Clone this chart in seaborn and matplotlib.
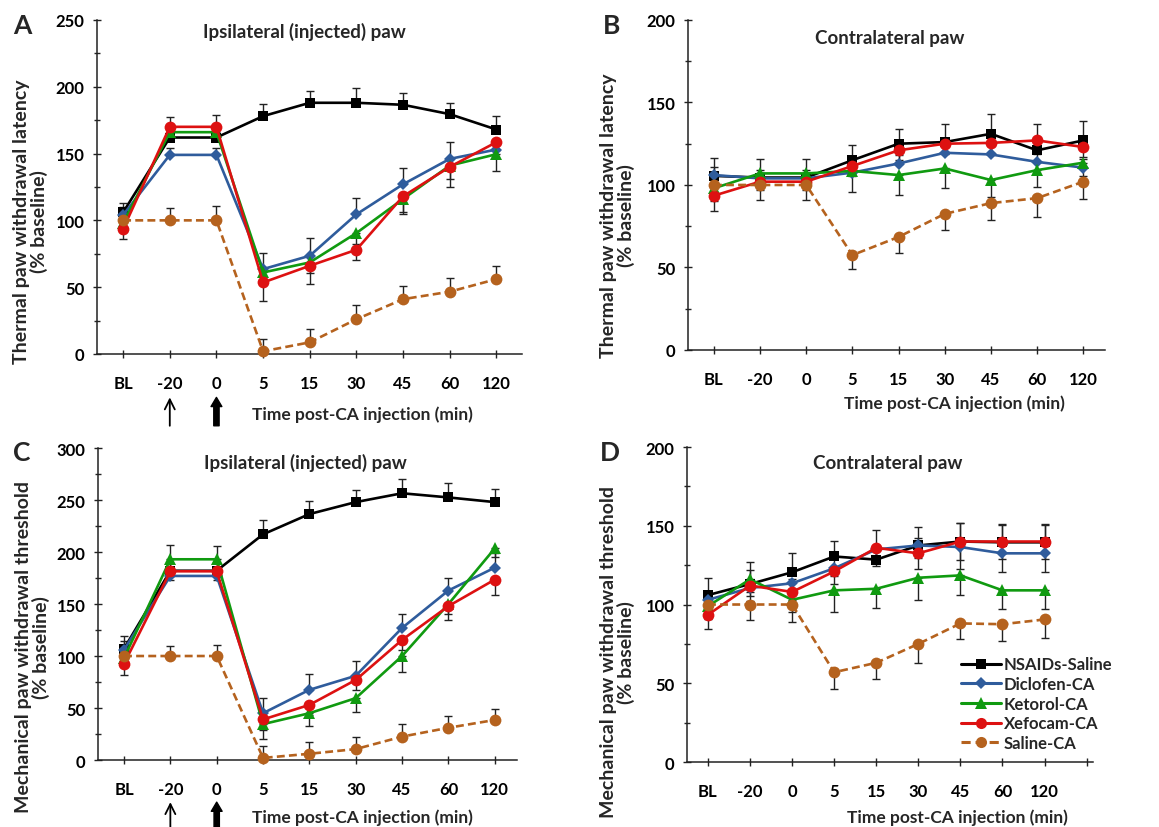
import numpy as np
import pandas as pd
import matplotlib.pyplot as plt
from matplotlib.lines import Line2D
from matplotlib.ticker import MultipleLocator
import seaborn as sns

# x categories and groups
time_labels = ['BL', '-20', '0', '5', '15', '30', '45', '60', '120']
groups = ['NSAIDs-Saline', 'Diclofen-CA', 'Ketorol-CA', 'Xefocam-CA', 'Saline-CA']

# Panel A: thermal latency, ipsilateral paw (% baseline)
a_nsaid = [106, 162, 162, 178, 188, 188, 186.5, 179.5, 168]
a_diclo = [104, 149, 149, 63.5, 73.5, 104.5, 127, 146, 153]
a_ketor = [98, 166, 166, 61, 68.5, 90.5, 116, 141, 149.5]
a_xefo = [93.5, 170, 170, 53.5, 66, 78, 118, 140, 158.5]
a_sal = [100, 100, 100, 2, 8.7, 26, 41, 46.6, 56]
a_nsaid_err = [7, 15, 17, 9, 9, 11, 9, 8.5, 10]
a_diclo_err = [6, 5, 5, 12, 13, 12, 12, 13, 5]
a_ketor_err = [6, 5, 5, 8, 8, 8, 10, 10, 12.5]
a_xefo_err = [7.5, 5, 5, 13.5, 14, 8, 13, 15, 6]
a_sal_err = [5, 9, 11, 9, 10, 11, 9.5, 10, 10]

# Panel B: thermal latency, contralateral paw
b_nsaid = [105.5, 104.5, 104.5, 115, 125, 126, 131, 121, 127]
b_diclo = [106, 104, 104, 107.5, 113, 119.5, 118.5, 114, 110.5]
b_ketor = [98, 107, 107, 108.5, 106, 110, 103, 109, 113.5]
b_xefo = [93.5, 102, 102, 111.5, 121, 125, 125.5, 127, 123]
b_sal = [100, 100, 100, 57.5, 68.5, 82.5, 89, 92, 102]
b_nsaid_err = [11, 11.5, 11.5, 9, 9, 11, 12, 16, 12]
b_diclo_err = [5, 5, 5, 5, 5, 5, 5, 5, 5]
b_ketor_err = [8, 8, 8, 13, 12, 12, 10, 10, 8]
b_xefo_err = [9.5, 5, 5, 6, 6, 6, 6, 6, 6]
b_sal_err = [6, 9, 9, 8.5, 9.5, 9.5, 10, 11.5, 10.5]

# Panel C: mechanical threshold, ipsilateral paw
c_nsaid = [107, 182, 182, 217, 236.5, 248, 256.5, 252.5, 248]
c_diclo = [106, 177, 177, 45, 67.5, 81, 127, 163, 185]
c_ketor = [98, 193, 193, 34.5, 45, 59.5, 100, 150, 203.5]
c_xefo = [92.5, 181.5, 181.5, 39, 53, 77, 115.5, 148, 173.5]
c_sal = [100, 100, 100, 2, 6, 10.5, 22.5, 31, 38.5]
c_nsaid_err = [12.5, 24.5, 24, 14, 12.5, 12, 13.5, 13.5, 13]
c_diclo_err = [8, 5, 5, 15, 15, 14, 13, 12.5, 14]
c_ketor_err = [8, 8, 8, 14.5, 12.5, 13, 15.5, 10, 8]
c_xefo_err = [11, 8, 8, 10, 10, 10, 10, 13, 15]
c_sal_err = [8, 10, 11, 11, 11, 12, 12, 11, 11]

# Panel D: mechanical threshold, contralateral paw
d_nsaid = [106, 113, 120.5, 130.5, 128.5, 137.5, 140, 139.5, 139.5]
d_diclo = [103, 110.5, 113.5, 123, 135, 137.5, 136.5, 132.5, 132.5]
d_ketor = [99, 116, 103, 109, 110, 117, 118.5, 109, 109]
d_xefo = [93.5, 112, 108, 121, 136, 132.5, 140, 140, 140]
d_sal = [100, 100, 100, 57, 63, 75, 88, 87.5, 90.5]
d_nsaid_err = [11, 14, 12, 10, 7, 12, 12, 11, 11]
d_diclo_err = [5, 5, 5, 5, 8, 8, 14, 12, 12]
d_ketor_err = [8, 8, 8, 13.5, 12, 14, 12.5, 12, 12]
d_xefo_err = [9, 10, 8, 8, 11.5, 10, 12, 11, 11]
d_sal_err = [5, 10, 11, 10.5, 10.5, 12, 10, 10.5, 12]

# styles
colors = {'NSAIDs-Saline': '#000000', 'Diclofen-CA': '#2F5C9C', 'Ketorol-CA': '#109A10',
          'Xefocam-CA': '#DD1111', 'Saline-CA': '#B5621E'}
markers = {'NSAIDs-Saline': 's', 'Diclofen-CA': 'D', 'Ketorol-CA': '^',
           'Xefocam-CA': 'o', 'Saline-CA': 'o'}
msizes = {'NSAIDs-Saline': 7.5, 'Diclofen-CA': 6.5, 'Ketorol-CA': 8.5,
          'Xefocam-CA': 8.5, 'Saline-CA': 8.5}
lstyles = {g: '-' for g in groups}
lstyles['Saline-CA'] = (0, (3, 1.6))

sns.set_theme(style='ticks')
plt.rcParams['font.family'] = ['Lato', 'DejaVu Sans']
plt.rcParams['font.weight'] = 'bold'
plt.rcParams['axes.labelweight'] = 'bold'
plt.rcParams['axes.edgecolor'] = '#222222'
plt.rcParams['axes.linewidth'] = 1.1


def draw_panel(ax, series, errors, err_dir, ymax, xmax, ntick, title, title_xy,
               ylabel, ylab_xy, xlab_xy, letter, letter_xy):
    x = np.arange(len(time_labels))
    for g in groups:
        y = np.array(series[g], dtype=float)
        e = np.array(errors[g], dtype=float)
        lo = e if err_dir[g] in ('down', 'both') else np.zeros_like(e)
        hi = e if err_dir[g] in ('up', 'both') else np.zeros_like(e)
        ax.errorbar(x, y, yerr=[lo, hi], fmt='none', ecolor='#222222',
                    elinewidth=1, capsize=3, capthick=1, zorder=1, clip_on=False)
    for i, g in enumerate(groups):
        df = pd.DataFrame({'pos': x, 'value': series[g]})
        sns.lineplot(data=df, x='pos', y='value', ax=ax, color=colors[g],
                     marker=markers[g], markersize=msizes[g], markeredgewidth=0,
                     linestyle=lstyles[g], linewidth=1.9, clip_on=False, zorder=3 + i)
    ax.set_xlim(-0.56, xmax)
    ax.set_ylim(0, ymax)
    ax.set_xticks(np.arange(ntick))
    ax.set_xticklabels(time_labels + [''] * (ntick - len(time_labels)))
    ax.yaxis.set_major_locator(MultipleLocator(50))
    ax.yaxis.set_minor_locator(MultipleLocator(25))
    ax.tick_params(axis='both', which='major', direction='inout', length=6, width=1,
                   labelsize=12, colors='#222222')
    ax.tick_params(axis='x', pad=12)
    ax.tick_params(axis='y', pad=6)
    ax.tick_params(axis='y', which='minor', direction='inout', length=5, width=1)
    for lab in ax.get_xticklabels() + ax.get_yticklabels():
        lab.set_color('black')
    sns.despine(ax=ax)
    ax.set_ylabel(ylabel, fontsize=14, linespacing=1.0)
    ax.yaxis.set_label_coords(*ylab_xy)
    ax.set_xlabel('Time post-CA injection (min)', fontsize=12.5)
    ax.xaxis.set_label_coords(*xlab_xy)
    ax.text(title_xy[0], title_xy[1], title, transform=ax.transAxes, ha='center',
            va='center', fontsize=13.5, fontweight='bold')
    ax.text(letter_xy[0], letter_xy[1], letter, transform=ax.figure.transFigure,
            ha='center', va='center', fontsize=19, fontweight='bold')


def add_arrows(ax, y0, y1):
    ax.annotate('', xy=(1, y0), xycoords=('data', 'axes fraction'),
                xytext=(1, y1), textcoords=('data', 'axes fraction'),
                arrowprops=dict(arrowstyle='->,head_width=0.3,head_length=0.6',
                                lw=1.3, color='black', shrinkA=0, shrinkB=0))
    ax.annotate('', xy=(2, y0), xycoords=('data', 'axes fraction'),
                xytext=(2, y1), textcoords=('data', 'axes fraction'),
                arrowprops=dict(arrowstyle='simple,head_width=0.65,head_length=0.55,tail_width=0.32',
                                fc='black', ec='black', mutation_scale=12,
                                shrinkA=0, shrinkB=0))


fig = plt.figure(figsize=(11.59, 8.28), dpi=100)
axA = fig.add_axes([0.0837, 0.5713, 0.3667, 0.4034])
axB = fig.add_axes([0.5936, 0.5761, 0.3598, 0.3986])
axC = fig.add_axes([0.0846, 0.0809, 0.3615, 0.3768])
axD = fig.add_axes([0.5927, 0.0785, 0.3503, 0.3804])

dir_ac = {'NSAIDs-Saline': 'up', 'Diclofen-CA': 'up', 'Ketorol-CA': 'down',
          'Xefocam-CA': 'down', 'Saline-CA': 'up'}
dir_b = {'NSAIDs-Saline': 'up', 'Diclofen-CA': 'up', 'Ketorol-CA': 'down',
         'Xefocam-CA': 'down', 'Saline-CA': 'down'}
dir_d = {'NSAIDs-Saline': 'up', 'Diclofen-CA': 'down', 'Ketorol-CA': 'down',
         'Xefocam-CA': 'both', 'Saline-CA': 'down'}

thermal = 'Thermal paw withdrawal latency\n(% baseline)'
mech = 'Mechanical paw withdrawal threshold\n(% baseline)'

draw_panel(axA, dict(zip(groups, [a_nsaid, a_diclo, a_ketor, a_xefo, a_sal])),
           dict(zip(groups, [a_nsaid_err, a_diclo_err, a_ketor_err, a_xefo_err, a_sal_err])),
           dir_ac, 250, 8.55, 9, 'Ipsilateral (injected) paw', (0.487, 0.967),
           thermal, (-0.115, 0.398), (0.624, -0.155), 'A', (0.019, 0.969))
draw_panel(axB, dict(zip(groups, [b_nsaid, b_diclo, b_ketor, b_xefo, b_sal])),
           dict(zip(groups, [b_nsaid_err, b_diclo_err, b_ketor_err, b_xefo_err, b_sal_err])),
           dir_b, 200, 8.47, 9, 'Contralateral paw', (0.484, 0.948),
           thermal, (-0.127, 0.41), (0.64, -0.136), 'B', (0.528, 0.969))
draw_panel(axC, dict(zip(groups, [c_nsaid, c_diclo, c_ketor, c_xefo, c_sal])),
           dict(zip(groups, [c_nsaid_err, c_diclo_err, c_ketor_err, c_xefo_err, c_sal_err])),
           dir_ac, 300, 8.48, 9, 'Ipsilateral (injected) paw', (0.496, 0.955),
           mech, (-0.115, 0.365), (0.63, -0.155), 'C', (0.019, 0.453))
draw_panel(axD, dict(zip(groups, [d_nsaid, d_diclo, d_ketor, d_xefo, d_sal])),
           dict(zip(groups, [d_nsaid_err, d_diclo_err, d_ketor_err, d_xefo_err, d_sal_err])),
           dir_d, 200, 9.15, 10, 'Contralateral paw', (0.495, 0.952),
           mech, (-0.128, 0.352), (0.667, -0.149), 'D', (0.526, 0.453))
axD.set_xlim(-0.5, 9.15)

add_arrows(axA, -0.13, -0.215)
add_arrows(axC, -0.135, -0.235)

handles = [Line2D([0], [0], color=colors[g], marker=markers[g], markersize=msizes[g] - 0.5,
                  markeredgewidth=0, linestyle=lstyles[g], linewidth=2.2) for g in groups]
axD.legend(handles, groups, loc='upper left', bbox_to_anchor=(0.675, 0.335),
           frameon=False, fontsize=12, handlelength=2.4, handletextpad=0.15,
           labelspacing=0.22, borderpad=0, borderaxespad=0)

fig.savefig('out.png', dpi=100)
